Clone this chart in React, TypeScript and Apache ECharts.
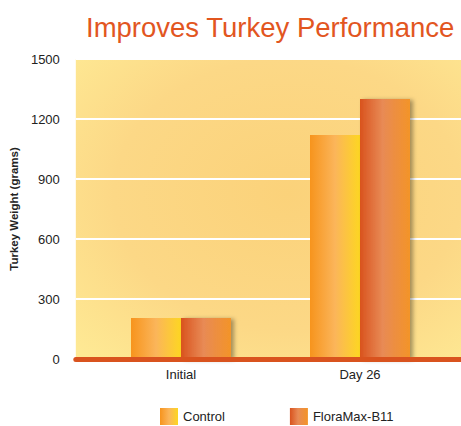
import React, { useEffect, useRef } from "react";
import * as echarts from "echarts";

const categories = ["Initial", "Day 26"];
const controlValues = [205, 1120];
const floraMaxValues = [205, 1300];
const seriesNames = ["Control", "FloraMax-B11"];

export default function App() {
  const ref = useRef<HTMLDivElement>(null);
  useEffect(() => {
    if (!ref.current) return;
    const chart = echarts.init(ref.current, null, { renderer: "svg" });
    const font = "Liberation Sans, Arial, sans-serif";
    const top = 59;
    const bottom = 67;
    const controlGrad = new echarts.graphic.LinearGradient(0, 0, 1, 0, [
      { offset: 0, color: "#f7941d" },
      { offset: 0.5, color: "#fbb55a" },
      { offset: 1, color: "#fdd622" },
    ]);
    const floraGrad = new echarts.graphic.LinearGradient(0, 0, 1, 0, [
      { offset: 0, color: "#d9531e" },
      { offset: 0.45, color: "#e88a55" },
      { offset: 1, color: "#f39428" },
    ]);
    chart.setOption({
      animation: false,
      title: {
        text: "Improves Turkey Performance",
        left: 81,
        top: 8,
        textStyle: { color: "#e2561f", fontSize: 27.5, fontWeight: "normal", fontFamily: font },
      },
      legend: {
        left: 160,
        top: 408,
        padding: 0,
        itemWidth: 18,
        itemHeight: 17,
        itemGap: 65,
        icon: "rect",
        data: seriesNames,
        textStyle: { color: "#222", fontSize: 13, fontFamily: font },
      },
      grid: [
        {
          left: 72,
          right: 0,
          top,
          bottom,
          show: true,
          borderWidth: 0,
          backgroundColor: new echarts.graphic.RadialGradient(0.55, 0.45, 0.75, [
            { offset: 0, color: "#fbd27a" },
            { offset: 0.6, color: "#fcd886" },
            { offset: 1, color: "#fee994" },
          ]),
        },
        { left: 91.5, right: 11.5, top, bottom },
      ],
      xAxis: [
        {
          gridIndex: 0,
          type: "category",
          data: categories,
          axisLabel: { show: false },
          axisTick: { show: false },
          axisLine: { show: true, lineStyle: { color: "#d9531e", width: 5 } },
          z: 10,
        },
        {
          gridIndex: 1,
          type: "category",
          data: categories,
          axisTick: { show: false },
          axisLine: { show: false },
          axisLabel: { color: "#222", fontSize: 13, fontFamily: font, margin: 9 },
        },
      ],
      yAxis: [
        {
          gridIndex: 0,
          type: "value",
          min: 0,
          max: 1500,
          interval: 300,
          name: "Turkey Weight (grams)",
          nameLocation: "middle",
          nameGap: 49,
          nameTextStyle: { color: "#222", fontSize: 11.5, fontWeight: "bold", fontFamily: font },
          axisLine: { show: false },
          axisTick: { show: false },
          axisLabel: {
            color: "#222",
            fontSize: 13,
            fontFamily: font,
            margin: 16,
            formatter: (v: number) => String(v),
          },
          splitLine: { show: true, lineStyle: { color: "#ffffff", width: 2 } },
        },
        {
          gridIndex: 1,
          type: "value",
          min: 0,
          max: 1500,
          interval: 300,
          show: false,
          splitLine: { show: false },
        },
      ],
      series: [
        {
          name: seriesNames[0],
          type: "bar",
          xAxisIndex: 1,
          yAxisIndex: 1,
          data: controlValues,
          barWidth: 50,
          barGap: "0%",
          itemStyle: { color: controlGrad },
        },
        {
          name: seriesNames[1],
          type: "bar",
          xAxisIndex: 1,
          yAxisIndex: 1,
          data: floraMaxValues,
          barWidth: 50,
          barGap: "0%",
          itemStyle: {
            color: floraGrad,
            shadowBlur: 4,
            shadowOffsetX: 3,
            shadowOffsetY: 1,
            shadowColor: "rgba(0,0,0,0.35)",
          },
        },
      ],
    });
    return () => chart.dispose();
  }, []);
  return (
    <div
      ref={ref}
      style={{ position: "absolute", left: 0, top: 0, width: 461, height: 426, background: "#fff" }}
    />
  );
}
